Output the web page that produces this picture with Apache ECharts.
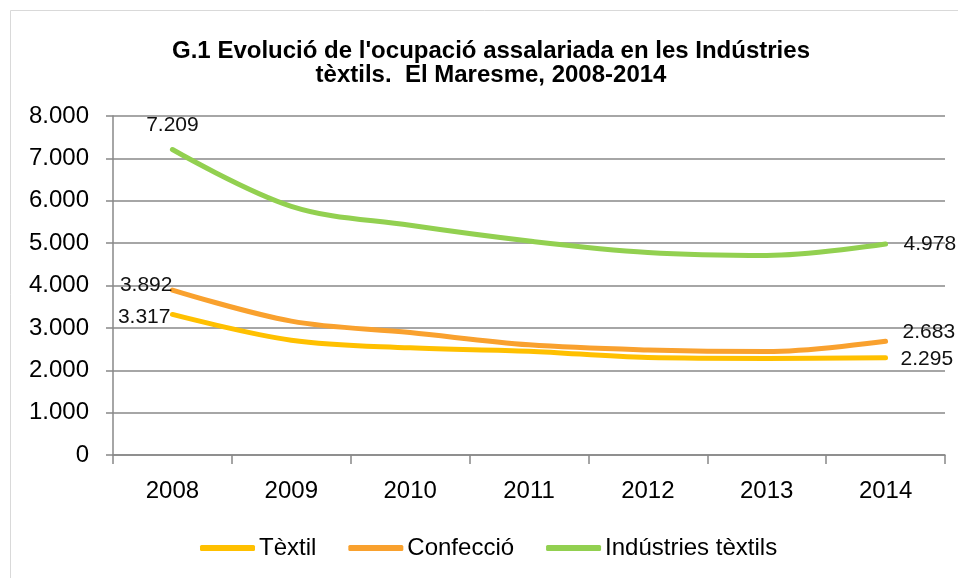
<!DOCTYPE html>
<html>
<head>
<meta charset="utf-8">
<script src="https://cdn.jsdelivr.net/npm/echarts@6/dist/echarts.min.js"></script>
<style>
  html, body { margin: 0; padding: 0; background: #fff; }
  #chart { width: 958px; height: 578px; }
</style>
</head>
<body>
<div id="chart"></div>
<script>
// Data
const years = ['2008', '2009', '2010', '2011', '2012', '2013', '2014'];
const textil = [3317, 2710, 2530, 2450, 2300, 2280, 2295];
const confeccio = [3892, 3160, 2890, 2600, 2480, 2440, 2683];
const industries = [7209, 5870, 5420, 5050, 4780, 4710, 4978];
const yTicks = [0, 1000, 2000, 3000, 4000, 5000, 6000, 7000, 8000];

const fmt = v => String(v).replace(/\B(?=(\d{3})+(?!\d))/g, '.');
const font = 'Liberation Sans, Arial, sans-serif';

// Only first and last points carry a label
function withEndLabels(values, firstPos, lastPos) {
    return values.map((v, i) => {
        if (i === 0) return { value: v, label: Object.assign({ show: true }, firstPos) };
        if (i === values.length - 1) return { value: v, label: Object.assign({ show: true }, lastPos) };
        return v;
    });
}

const labelStyle = {
    show: false,
    formatter: p => fmt(p.value),
    color: '#111',
    fontFamily: font,
    fontSize: 21
};

function lineSeries(name, color, values, firstPos, lastPos) {
    return {
        name: name,
        type: 'line',
        smooth: 0.35,
        showSymbol: true,
        symbol: 'circle',
        symbolSize: 0,
        color: color,
        lineStyle: { width: 5, cap: 'round' },
        label: labelStyle,
        data: withEndLabels(values, firstPos, lastPos)
    };
}

const chart = echarts.init(document.getElementById('chart'));

chart.setOption({
    animation: false,
    backgroundColor: '#fff',
    title: {
        text: "G.1 Evolució de l'ocupació assalariada en les Indústries\ntèxtils.  El Maresme, 2008-2014",
        left: 486,
        textAlign: 'center',
        top: 34,
        textStyle: {
            fontFamily: font,
            fontWeight: 'bold',
            fontSize: 24,
            lineHeight: 24,
            color: '#000'
        }
    },
    graphic: [{
        type: 'rect',
        shape: { x: 10.5, y: 10.5, width: 960, height: 600 },
        style: { fill: null, stroke: '#d9d9d9', lineWidth: 1 },
        silent: true
    }],
    legend: {
        top: 531,
        left: 195,
        itemWidth: 55,
        itemHeight: 6,
        itemGap: 32,
        icon: 'roundRect',
        textStyle: { fontFamily: font, fontSize: 24, color: '#000', padding: [0, 0, 0, -1] },
        data: ['Tèxtil', 'Confecció', 'Indústries tèxtils']
    },
    grid: { left: 113, right: 13, top: 116, bottom: 123 },
    xAxis: {
        type: 'category',
        data: years,
        boundaryGap: true,
        axisLine: { lineStyle: { color: '#888', width: 1.5 } },
        axisTick: { show: true, length: 9, lineStyle: { color: '#888', width: 1.5 } },
        axisLabel: { fontFamily: font, fontSize: 24, color: '#000', margin: 24 }
    },
    yAxis: {
        type: 'value',
        min: yTicks[0],
        max: yTicks[yTicks.length - 1],
        interval: 1000,
        axisLine: { show: true, lineStyle: { color: '#888', width: 1.5 } },
        axisTick: { show: true, length: 7, lineStyle: { color: '#888', width: 1.5 } },
        splitLine: { lineStyle: { color: '#888', width: 1.5 } },
        axisLabel: {
            fontFamily: font, fontSize: 24, color: '#000', margin: 24,
            formatter: v => fmt(v)
        }
    },
    series: [
        lineSeries('Tèxtil', '#FFC000', textil,
            { position: 'left', distance: 2, offset: [0, 3] },
            { position: 'right', distance: 15, offset: [0, 1] }),
        lineSeries('Confecció', '#F9A12E', confeccio,
            { position: 'left', distance: 0, offset: [0, -5] },
            { position: 'right', distance: 17, offset: [0, -9] }),
        lineSeries('Indústries tèxtils', '#92D050', industries,
            { position: 'top', distance: 14 },
            { position: 'right', distance: 18 })
    ]
});
</script>
</body>
</html>
